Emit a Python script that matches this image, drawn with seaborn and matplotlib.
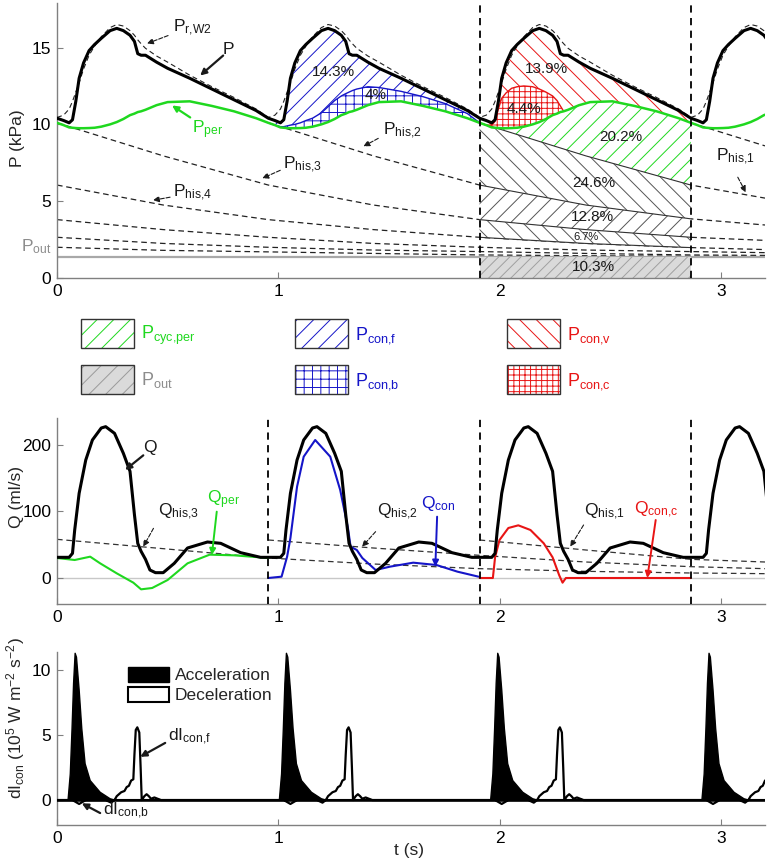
import numpy as np
import matplotlib
matplotlib.use('Agg')
import matplotlib.pyplot as plt
import matplotlib.transforms as mtrans
from matplotlib.patches import Rectangle, Patch
import seaborn as sns

nan = np.nan

# ---- values ----
beat_start = [0.0, 0.955, 1.91, 2.865]      # s, start of each beat

# pressure over one beat (time from beat start, kPa)
tau_p = [0, 0.03, 0.055, 0.07, 0.085, 0.1, 0.12, 0.145, 0.17, 0.2, 0.24, 0.27, 0.3,
         0.33, 0.35, 0.365, 0.38, 0.4, 0.45, 0.5, 0.6, 0.7, 0.8, 0.9, 0.955]
p_beat = [10.4, 10.25, 10.1, 10.3, 11.5, 13.0, 14.0, 14.8, 15.2, 15.6, 16.1, 16.25, 16.1,
          15.8, 15.4, 14.6, 14.5, 14.5, 14.05, 13.65, 13.0, 12.3, 11.6, 10.9, 10.4]
p_rw2_beat = [10.45, 10.6, 11.0, 11.5, 12.1, 12.7, 13.6, 14.5, 15.1, 15.7, 16.3, 16.5, 16.4,
              16.1, 15.8, 15.5, 15.25, 14.95, 14.45, 14.05, 13.2, 12.45, 11.75, 11.0, 10.45]
p_per_beat = [10.1, 9.95, 9.8, 9.78, 9.76, 9.75, 9.75, 9.76, 9.78, 9.85, 10.0, 10.15, 10.35,
              10.6, 10.7, 10.8, 10.85, 10.95, 11.25, 11.45, 11.5, 11.2, 10.85, 10.4, 10.1]
p_conb_beat = [10.1, 9.95, 9.85, 9.85, 9.9, 9.95, 10.0, 10.1, 10.25, 10.4, 10.75, 11.15, 11.55,
               11.85, 12.0, 12.1, 12.2, 12.3, 12.45, 12.4, 12.15, 11.8, 11.35, 10.7, 10.1]
p_conc_beat = [10.1, 9.95, 9.95, 10.2, 11.0, 11.7, 12.05, 12.35, 12.45, 12.5, 12.45, 12.3, 12.1,
               11.85, 11.55, 11.2, 10.85, 10.95, 11.25, 11.45, 11.5, 11.2, 10.85, 10.4, 10.1]
p_out = 1.35

# pressure history curves (dashed), sampled at t_his
t_his = [0, 0.48, 0.955, 1.43, 1.91, 2.39, 2.865, 3.2]
p_his = [
    [nan, nan, nan, nan, nan, nan, 10.1, 8.6],
    [nan, nan, nan, nan, 10.1, 7.95, 6.05, 5.2],      # P_his,1
    [nan, nan, 10.1, 7.95, 6.05, 4.75, 3.85, 3.45],   # P_his,2
    [10.1, 7.95, 6.05, 4.75, 3.8, 3.15, 2.65, 2.45],  # P_his,3
    [6.05, 4.75, 3.8, 3.15, 2.65, 2.25, 1.98, 1.85],  # P_his,4
    [3.8, 3.15, 2.65, 2.25, 2.0, 1.82, 1.72, 1.65],
    [2.65, 2.25, 2.0, 1.82, 1.72, 1.6, 1.5, 1.47],
    [2.0, 1.8, 1.7, 1.6, 1.5, 1.45, 1.42, 1.42],
]

# flow over one beat (ml/s)
tau_q = [0, 0.055, 0.07, 0.08, 0.1, 0.13, 0.16, 0.2, 0.22, 0.26, 0.3, 0.33, 0.35, 0.365,
         0.38, 0.4, 0.42, 0.445, 0.48, 0.53, 0.59, 0.68, 0.74, 0.83, 0.92, 0.955]
q_beat = [31, 31, 37, 72, 127, 177, 207, 225, 227, 217, 187, 160, 95, 52,
          40, 28, 12, 8, 8, 22, 45, 54, 52, 38, 31, 31]
tau_qper = [0, 0.08, 0.15, 0.195, 0.27, 0.345, 0.38, 0.43, 0.5, 0.59, 0.69, 0.8, 0.955]
q_per = [30, 27, 32, 22, 7, -7, -17, -15, -3, 22, 35, 34, 30]
tau_qcon = [0, 0.06, 0.085, 0.1, 0.13, 0.16, 0.212, 0.28, 0.325, 0.36, 0.372, 0.4, 0.425,
            0.485, 0.55, 0.655, 0.76, 0.855, 0.95]
q_con = [0, 2, 32, 60, 137, 182, 207, 182, 132, 75, 47, 42, 30, 12, 17, 23, 19.5, 9.5, 2]
tau_qconc = [0, 0.06, 0.07, 0.09, 0.13, 0.175, 0.23, 0.29, 0.33, 0.36, 0.375, 0.39, 0.955]
q_conc = [0, 0, 31, 57, 75, 79, 72, 52, 31, 4, -7, 0, 0]
q_his = [
    [nan, nan, nan, nan, 57, 42, 28, 24],   # Q_his,1
    [nan, nan, 57, 45, 34, 24, 17, 14],     # Q_his,2
    [58, 44, 30, 21, 14, 10, 7.5, 6.5],     # Q_his,3
]

# wave intensity over one beat (1e5 W m-2 s-2)
tau_acc = [0, 0.05, 0.06, 0.068, 0.075, 0.082, 0.088, 0.1, 0.112, 0.127, 0.15, 0.195, 0.24, 0.26, 0.955]
di_acc = [0, 0, 2.0, 5.5, 9.0, 11.3, 11.0, 8.5, 5.5, 2.8, 1.5, 0.6, 0.1, 0, 0]
tau_dec = [0, 0.07, 0.1, 0.13, 0.22, 0.245, 0.26, 0.27, 0.29, 0.305, 0.315, 0.325, 0.335,
           0.345, 0.35, 0.356, 0.363, 0.372, 0.378, 0.383, 0.395, 0.405, 0.415, 0.425, 0.44,
           0.455, 0.47, 0.955]
di_dec = [0, 0, -0.3, 0, 0, -0.2, 0, 0.3, 0.6, 0.7, 1.0, 1.1, 1.5,
          1.6, 3.5, 5.4, 5.6, 5.2, 2.5, 0, 0.3, 0.45, 0.3, 0.1, 0.2,
          0.1, 0, 0]

# ---- style ----
sns.set_theme(style='ticks')
plt.rcParams['font.family'] = ['Liberation Sans', 'DejaVu Sans']
plt.rcParams['mathtext.default'] = 'regular'
plt.rcParams['hatch.linewidth'] = 0.7

GREEN = '#1fd81f'
BLUE = '#1515c8'
RED = '#e81515'
GRAY = '#8c8c8c'
DASH = (0, (4.5, 3))


def tile(tau, vals, beats):
    t = np.concatenate([np.asarray(tau, float) + b for b in beats])
    v = np.tile(np.asarray(vals, float), len(beats))
    return t, v


def line(ax, x, y, **kw):
    sns.lineplot(x=np.asarray(x, float), y=np.asarray(y, float), ax=ax, sort=False,
                 estimator=None, **kw)


def band(ax, x_top, y_top, x_bot, y_bot, hatch, color, face='white', z=2):
    xs = np.concatenate([np.asarray(x_top, float), np.asarray(x_bot, float)[::-1]])
    ys = np.concatenate([np.asarray(y_top, float), np.asarray(y_bot, float)[::-1]])
    ax.fill(xs, ys, facecolor=face, edgecolor=color, hatch=hatch, lw=0, zorder=z)


def arrow(ax, tail, tip, color='k', ls='-', lw=1.0, head=9):
    ax.annotate('', xy=tip, xytext=tail,
                arrowprops=dict(arrowstyle='-|>', color=color, lw=lw, linestyle=ls,
                                mutation_scale=head, shrinkA=0, shrinkB=0), zorder=6)


def label(ax, x, y, s, color='k', fs=12.5):
    ax.text(x, y, s, color=color, fontsize=fs, ha='left', va='baseline', zorder=6)


fig = plt.figure(figsize=(7.67, 8.64), dpi=100)
L, W = 57 / 767, 708 / 767
ax1 = fig.add_axes([L, 1 - 278 / 864, W, 275 / 864])
ax2 = fig.add_axes([L, 1 - 604 / 864, W, 186 / 864])
ax3 = fig.add_axes([L, 1 - 825 / 864, W, 173 / 864])
axl = fig.add_axes([0, 1 - 405 / 864, 1, 100 / 864])

# ---------------- pressure panel ----------------
th = np.array(t_his)
for vals in p_his:
    v = np.array(vals)
    m = ~np.isnan(v)
    line(ax1, th[m], v[m], color='#222222', lw=0.9, linestyle=DASH, zorder=1)
ax1.axhline(p_out, color='#a8a8a8', lw=1.6, zorder=1)

x2 = np.array(tau_p) + beat_start[1]
x3 = np.array(tau_p) + beat_start[2]
band(ax1, x2, p_beat, x2, p_conb_beat, '//', BLUE)
band(ax1, x2, p_conb_beat, x2, p_per_beat, '++', BLUE)
band(ax1, x3, p_beat, x3, p_conc_beat, '\\\\', RED)
band(ax1, x3, p_conc_beat, x3, p_per_beat, '+++', RED)
seg = slice(4, 7)
his1, his2, his3, his4 = [np.array(p_his[k])[seg] for k in (1, 2, 3, 4)]
band(ax1, x3, p_per_beat, th[seg], his1, '//', GREEN)
band(ax1, th[seg], his1, th[seg], his2, '\\\\', '#555555')
band(ax1, th[seg], his2, th[seg], his3, '//', '#555555')
band(ax1, th[seg], his3, th[seg], his4, '\\\\', '#555555')
ax1.fill_between([beat_start[2], beat_start[3]], 0, p_out, facecolor='#dadada',
                 edgecolor='#a0a0a0', hatch='///', lw=0, zorder=2)
for h in (his1, his2, his3, his4):
    line(ax1, th[seg], h, color='#333333', lw=0.8, zorder=3)

line(ax1, x2, p_conb_beat, color=BLUE, lw=1.0, zorder=3)
line(ax1, x3[:17], np.array(p_conc_beat)[:17], color=RED, lw=1.0, zorder=3)
t_pp, pp_all = tile(tau_p, p_per_beat, beat_start)
line(ax1, t_pp, pp_all, color=GREEN, lw=1.8, zorder=4)
t_pr, pr_all = tile(tau_p, p_rw2_beat, beat_start)
line(ax1, t_pr, pr_all, color='#222222', lw=0.8, linestyle=DASH, zorder=4)
t_p, p_all = tile(tau_p, p_beat, beat_start)
line(ax1, t_p, p_all, color='black', lw=2.2, zorder=5)
for xv in beat_start[2:]:
    ax1.axvline(xv, color='black', lw=1.3, linestyle=(0, (4, 3)), zorder=5)

label(ax1, 0.525, 16.0, r'$P_{r{,}W2}$')
arrow(ax1, (0.502, 15.78), (0.407, 15.26), ls='--', lw=0.8)
label(ax1, 0.75, 14.6, 'P')
arrow(ax1, (0.751, 14.48), (0.647, 13.18), lw=1.6)
label(ax1, 0.61, 9.42, r'$P_{per}$', color=GREEN)
arrow(ax1, (0.602, 10.45), (0.52, 11.23), color=GREEN, lw=1.6)
label(ax1, 1.475, 9.3, r'$P_{his{,}2}$')
arrow(ax1, (1.452, 9.09), (1.385, 8.57), ls='--', lw=0.8)
label(ax1, 1.02, 7.12, r'$P_{his{,}3}$')
arrow(ax1, (1.009, 7.01), (0.928, 6.49), ls='--', lw=0.8)
label(ax1, 0.525, 5.28, r'$P_{his{,}4}$')
arrow(ax1, (0.511, 5.26), (0.434, 5.06), ls='--', lw=0.8)
label(ax1, 2.98, 7.66, r'$P_{his{,}1}$')
arrow(ax1, (3.077, 6.56), (3.113, 5.58), ls='--', lw=0.8)
ax1.text(-0.007, 1.71, r'$P_{out}$', color=GRAY, fontsize=12.5, ha='right', va='baseline',
         transform=mtrans.blended_transform_factory(ax1.transAxes, ax1.transData))

pct = [(1.249, 13.4, '14.3%', 11), (1.44, 11.9, '4%', 11), (2.21, 13.6, '13.9%', 11),
       (2.11, 11.0, '4.4%', 11), (2.55, 9.15, '20.2%', 11), (2.425, 6.2, '24.6%', 11),
       (2.42, 3.95, '12.8%', 11), (2.39, 2.65, '6.7%', 8), (2.425, 0.7, '10.3%', 11)]
for xp, yp, s, fs in pct:
    ax1.text(xp, yp, s, fontsize=fs, ha='center', va='center', color='#1a1a1a', zorder=6)

ax1.set_ylim(0, 17.9)
ax1.set_yticks([0, 5, 10, 15])
ax1.set_ylabel('P (kPa)', fontsize=12.5)
ax1.yaxis.set_label_coords(-0.045, 0.51)

# ---------------- flow panel ----------------
ax2.axhline(0, color='#c8c8c8', lw=1.0, zorder=0)
for vals in q_his:
    v = np.array(vals)
    m = ~np.isnan(v)
    line(ax2, th[m], v[m], color='#333333', lw=0.9, linestyle=DASH, zorder=1)
line(ax2, np.array(tau_qper) + beat_start[0], q_per, color=GREEN, lw=1.5, zorder=3)
line(ax2, np.array(tau_qcon) + beat_start[1], q_con, color=BLUE, lw=1.5, zorder=3)
line(ax2, np.array(tau_qconc) + beat_start[2], q_conc, color=RED, lw=1.5, zorder=3)
t_q, q_all = tile(tau_q, q_beat, beat_start)
line(ax2, t_q, q_all, color='black', lw=2.2, zorder=4)
for xv in beat_start[1:]:
    ax2.axvline(xv, color='black', lw=1.3, linestyle=(0, (4, 3)), zorder=5)

label(ax2, 0.39, 189, 'Q')
arrow(ax2, (0.39, 184), (0.308, 162), lw=1.6)
label(ax2, 0.457, 93, r'$Q_{his{,}3}$')
arrow(ax2, (0.436, 74.5), (0.39, 47), ls='--', lw=0.8)
label(ax2, 0.677, 112, r'$Q_{per}$', color=GREEN)
arrow(ax2, (0.722, 99.5), (0.70, 34.5), color=GREEN, lw=1.4)
label(ax2, 1.446, 93, r'$Q_{his{,}2}$')
arrow(ax2, (1.44, 69.5), (1.379, 47), ls='--', lw=0.8)
label(ax2, 1.643, 105, r'$Q_{con}$', color=BLUE)
arrow(ax2, (1.718, 92), (1.71, 17), color=BLUE, lw=1.4)
label(ax2, 2.38, 93, r'$Q_{his{,}1}$')
arrow(ax2, (2.38, 79.5), (2.32, 47), ls='--', lw=0.8)
label(ax2, 2.61, 96, r'$Q_{con{,}c}$', color=RED)
arrow(ax2, (2.706, 87), (2.668, 0), color=RED, lw=1.4)

ax2.set_ylim(-39, 240)
ax2.set_yticks([0, 100, 200])
ax2.set_ylabel('Q (ml/s)', fontsize=12.5)
ax2.yaxis.set_label_coords(-0.047, 0.575)

# ---------------- wave intensity panel ----------------
t_a, a_all = tile(tau_acc, di_acc, beat_start)
ax3.fill_between(t_a, 0, a_all, facecolor='black', edgecolor='black', lw=1.0, zorder=2)
t_d, d_all = tile(tau_dec, di_dec, beat_start)
ax3.fill_between(t_d, 0, d_all, facecolor='white', edgecolor='black', lw=1.6, zorder=3)
ax3.axhline(0, color='black', lw=1.8, zorder=4)

label(ax3, 0.502, 4.6, r'$dI_{con{,}f}$')
arrow(ax3, (0.489, 4.4), (0.376, 3.33), lw=1.6)
label(ax3, 0.208, -1.15, r'$dI_{con{,}b}$')
arrow(ax3, (0.195, -1.0), (0.112, -0.25), lw=1.6)

ax3.legend(handles=[Patch(facecolor='black', edgecolor='black'),
                    Patch(facecolor='white', edgecolor='black', lw=1.5)],
           labels=['Acceleration', 'Deceleration'], loc='upper left',
           bbox_to_anchor=(0.1, 0.915), frameon=False, fontsize=12.5, handlelength=2.4,
           handleheight=0.95, handletextpad=0.3, labelspacing=0.2, borderpad=0,
           borderaxespad=0)

ax3.set_ylim(-1.92, 11.4)
ax3.set_yticks([0, 5, 10])
ax3.set_ylabel(r'$dI_{con}$ (10$^5$ W m$^{-2}$ s$^{-2}$)', fontsize=12.5)
ax3.yaxis.set_label_coords(-0.042, 0.62)
ax3.set_xlabel('t (s)', fontsize=12.5, va='top')
ax3.xaxis.set_label_coords(0.497, -0.105)

for ax in (ax1, ax2, ax3):
    ax.set_xlim(0, 3.2)
    ax.set_xticks([0, 1, 2, 3])
    sns.despine(ax=ax)
    for sp in ('left', 'bottom'):
        ax.spines[sp].set_color('#808080')
        ax.spines[sp].set_linewidth(1.0)
    ax.tick_params(direction='in', length=4, width=0.8, color='#808080', labelsize=12.5,
                   pad=4, labelcolor='black')

# ---------------- hatch legend (figure pixels) ----------------
axl.set_xlim(0, 767)
axl.set_ylim(405, 305)
axl.axis('off')
leg_items = [
    (81, 319, '//', GREEN, 'white', r'$P_{cyc{,}per}$', GREEN),
    (81, 365, '//', '#9a9a9a', '#dadada', r'$P_{out}$', GRAY),
    (295, 319, '//', BLUE, 'white', r'$P_{con{,}f}$', BLUE),
    (295, 365, '++', BLUE, 'white', r'$P_{con{,}b}$', BLUE),
    (507, 319, '\\\\', RED, 'white', r'$P_{con{,}v}$', RED),
    (507, 365, '+++', RED, 'white', r'$P_{con{,}c}$', RED),
]
for x0, y0, hatch, hc, face, txt, tc in leg_items:
    axl.add_patch(Rectangle((x0, y0), 53, 29, facecolor=face, edgecolor=hc, hatch=hatch, lw=0))
    axl.add_patch(Rectangle((x0, y0), 53, 29, fill=False, edgecolor='#333333', lw=1.0))
    axl.text(x0 + 60, y0 + 20, txt, color=tc, fontsize=13, ha='left', va='baseline')

fig.savefig('out.png', dpi=100)
